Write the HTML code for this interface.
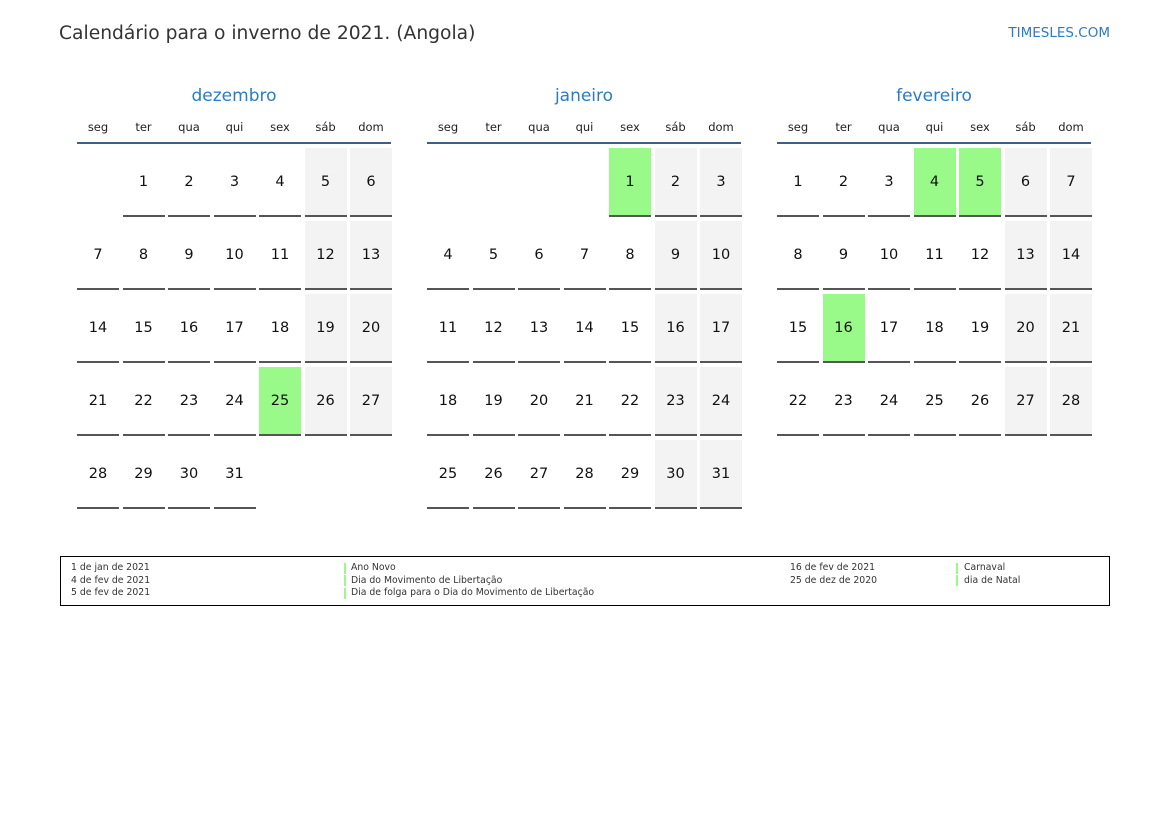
<!DOCTYPE html>
<html><head><meta charset="utf-8"><style>
body{margin:0;width:1169px;height:827px;background:#fff;position:relative;font-family:"DejaVu Sans","Liberation Sans",sans-serif;overflow:hidden}
.a{position:absolute}
.t{left:59px;top:23px;font-size:18.7px;color:#333}
.s{right:59px;top:25px;font-size:13.5px;color:#2a7bc4}
.m{font-size:17px;color:#2a7bc4;text-align:center;width:314px}
.d{font-size:11.5px;color:#222;text-align:center;width:42px}
.h{height:2px;background:#3d5f85;width:314px}
.c{width:42px;height:67px;border-bottom:2px solid #555;text-align:center;line-height:69px;font-size:14.5px;color:#111}
.g{background:#f3f3f3}.hl{background:#99fa8a}
.lg{left:60px;top:556px;width:1048px;height:48px;border:1px solid #000}
.l{font-size:9.3px;color:#333;line-height:12.5px}
.b{width:2px;height:11px;background:#99fa8a}
</style></head><body>
<div class="a t">Calendário para o inverno de 2021. (Angola)</div>
<div class="a s">TIMESLES.COM</div>
<div id="cal"></div>
<div class="a lg"></div>
<div class="a l" style="left:71px;top:562px">1 de jan de 2021<br>4 de fev de 2021<br>5 de fev de 2021</div>
<div class="a b" style="left:344px;top:563px"></div><div class="a b" style="left:344px;top:575px"></div><div class="a b" style="left:344px;top:588px"></div>
<div class="a l" style="left:351px;top:562px">Ano Novo<br>Dia do Movimento de Libertação<br>Dia de folga para o Dia do Movimento de Libertação</div>
<div class="a l" style="left:790px;top:562px">16 de fev de 2021<br>25 de dez de 2020</div>
<div class="a b" style="left:956px;top:563px"></div><div class="a b" style="left:956px;top:575px"></div>
<div class="a l" style="left:964px;top:562px">Carnaval<br>dia de Natal</div>
<script>
var ms=[["dezembro",1,31,[25]],["janeiro",4,31,[1]],["fevereiro",0,28,[4,5,16]]];
var dn=["seg","ter","qua","qui","sex","sáb","dom"],h="";
ms.forEach(function(m,i){var x0=77+350*i;
h+='<div class="a m" style="left:'+x0+'px;top:86px">'+m[0]+'</div>';
h+='<div class="a h" style="left:'+x0+'px;top:142px"></div>';
for(var k=0;k<7;k++)h+='<div class="a d" style="left:'+(x0+k*45.5)+'px;top:120px">'+dn[k]+'</div>';
for(var d=1;d<=m[2];d++){var p=m[1]+d-1,c=p%7,r=Math.floor(p/7);
var cl="c"+(m[3].indexOf(d)>=0?" hl":(c>=5?" g":""));
h+='<div class="a '+cl+'" style="left:'+(x0+c*45.5)+'px;top:'+(148+r*73)+'px">'+d+'</div>';}
});
document.getElementById("cal").innerHTML=h;
</script>
</body></html>
